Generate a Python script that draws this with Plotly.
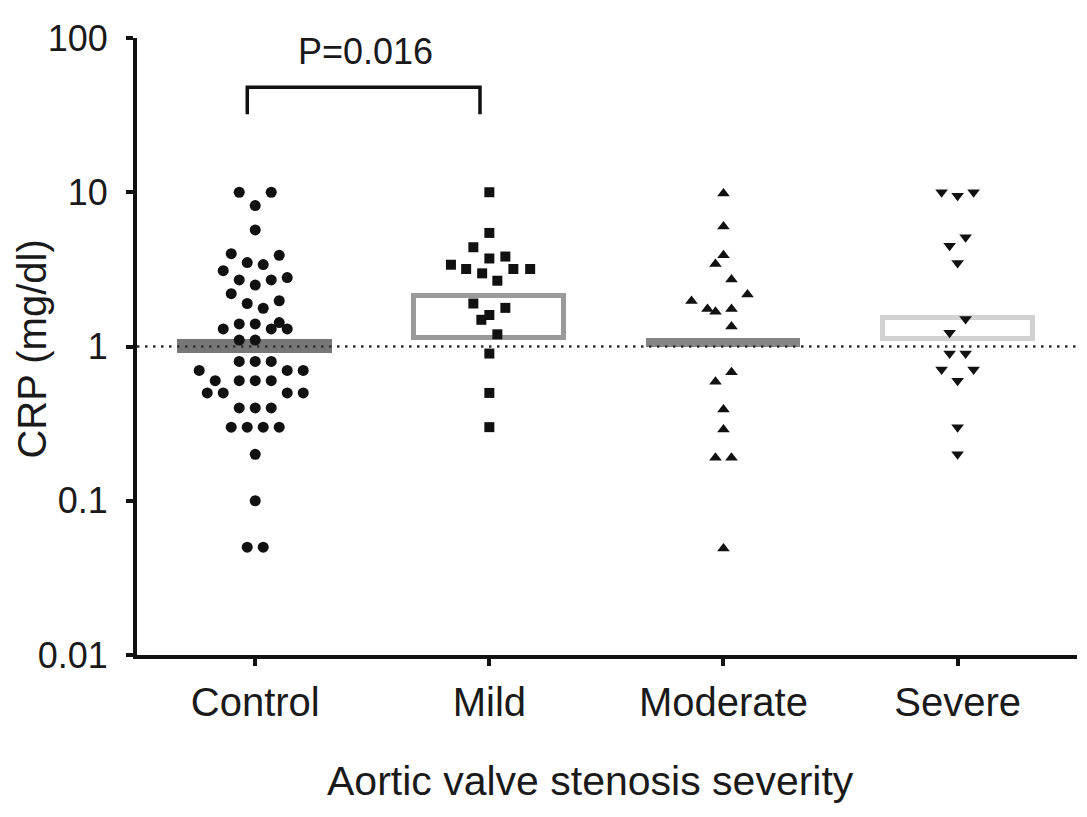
import plotly.graph_objects as go

# ---------------- data ----------------
categories = ["Control", "Mild", "Moderate", "Severe"]

control_values = [10, 10, 8.2, 5.7, 4.0, 3.9, 3.5, 3.4, 3.1, 2.7, 2.5, 2.7, 2.8, 2.2, 1.9, 1.77,
                  1.98, 1.3, 1.4, 1.4, 1.3, 1.43, 1.3, 1.1, 1.1, 0.8, 0.8, 0.8, 0.7, 0.7, 0.7,
                  0.6, 0.6, 0.6, 0.6, 0.5, 0.5, 0.5, 0.5, 0.4, 0.4, 0.4, 0.3, 0.3, 0.3, 0.3,
                  0.2, 0.1, 0.05, 0.05]
control_jitter = [-1, 1, 0, 0, -1.5, 1.5, -0.5, 0.5, -2, -1, 0, 1, 2, -1.5, -0.5, 0.5,
                  1.5, -2, -1, 0, 1, 1.5, 2, -1, 0, -1, 0, 1, -3.5, 2, 3,
                  -2.5, -1, 0, 1, -3, -2, 2, 3, -1, 0, 1, -1.5, -0.5, 0.5, 1.5,
                  0, 0, -0.5, 0.5]

mild_values = [10, 5.45, 4.4, 3.72, 3.83, 3.39, 3.18, 2.98, 3.18, 3.18, 2.67, 1.9, 1.78,
               1.6, 1.49, 1.2, 0.9, 0.5, 0.3]
mild_jitter = [0, 0, -1, 0, 1, -2.4, -1.45, -0.45, 1.5, 2.55, 0.5, -1, 1,
               0, -0.5, 0.5, 0, 0, 0]

moderate_values = [9.8, 6.0, 3.9, 3.43, 2.72, 2.17, 1.97, 1.75, 1.68, 1.75, 1.35, 0.68,
                   0.59, 0.39, 0.29, 0.19, 0.19, 0.049]
moderate_jitter = [0, 0, 0, -0.5, 0.5, 1.5, -2, -1, -0.5, 0.5, 0.5, 0.5,
                   -0.5, 0, 0, -0.5, 0.5, 0]

severe_values = [10, 9.5, 10, 5.1, 4.5, 3.48, 1.51, 1.23, 0.9, 0.9, 0.71, 0.71, 0.6, 0.3, 0.2]
severe_jitter = [-1, 0, 1, 0.5, -0.5, 0, 0.5, -0.5, -0.5, 0.5, -1, 1, 0, 0, 0]

bar_bottom = [0.93, 1.14, 1.02, 1.12]
bar_top = [1.07, 2.12, 1.08, 1.54]

reference_value = 1
p_label = "P=0.016"
bracket_low, bracket_high = 32, 48

y_tickvals = [0.01, 0.1, 1, 10, 100]
y_ticktext = ["0.01", "0.1", "1", "10", "100"]

# ---------------- styling ----------------
FONT = "Liberation Sans, Arial, sans-serif"
INK = "#111111"
TXT = "#1a1a1a"
SLOT = 16 / 234.1  # horizontal spacing of swarm columns in category units

groups = [
    (control_values, control_jitter, "circle", 11),
    (mild_values, mild_jitter, "square", 10),
    (moderate_values, moderate_jitter, "triangle-up", 11),
    (severe_values, severe_jitter, "triangle-down", 11),
]

bar_fill = ["#777777", "rgba(255,255,255,0)", "#858585", "rgba(255,255,255,0)"]
bar_line = ["#777777", "#9a9a9a", "#858585", "#d2d2d2"]

fig = go.Figure()

fig.add_trace(go.Bar(
    x=list(range(len(categories))),
    y=[t - b for t, b in zip(bar_top, bar_bottom)],
    base=bar_bottom,
    width=0.64,
    marker=dict(color=bar_fill, line=dict(color=bar_line, width=5)),
    showlegend=False,
    hoverinfo="skip",
))

fig.add_trace(go.Scatter(
    x=[-0.505, 3.51], y=[reference_value, reference_value],
    mode="lines",
    line=dict(color="#333333", width=2.5, dash="2.5px,5.5px"),
    showlegend=False, hoverinfo="skip",
))

for i, (vals, jit, sym, sz) in enumerate(groups):
    fig.add_trace(go.Scatter(
        x=[i + j * SLOT for j in jit],
        y=vals,
        mode="markers",
        marker=dict(symbol=sym, size=sz, color=INK, line=dict(width=0)),
        showlegend=False,
        name=categories[i],
    ))

# significance bracket between Control and Mild
fig.add_trace(go.Scatter(
    x=[-0.034, -0.034, 0.96, 0.96],
    y=[bracket_low, bracket_high, bracket_high, bracket_low],
    mode="lines",
    line=dict(color=INK, width=3.5),
    showlegend=False, hoverinfo="skip",
))

fig.update_layout(
    width=1079, height=809,
    margin=dict(l=129, r=10, t=21, b=162),
    paper_bgcolor="white", plot_bgcolor="white",
    font=dict(family=FONT, color=TXT),
    bargap=0,
    xaxis=dict(
        range=[-0.505, 3.51],
        tickvals=list(range(len(categories))),
        ticktext=categories,
        tickfont=dict(size=40, family=FONT, color=TXT),
        showline=True, linecolor=INK, linewidth=4,
        ticks="outside", ticklen=7, tickwidth=3.5, tickcolor=INK,
        showgrid=False, zeroline=False,
        ticklabelstandoff=2,
    ),
    yaxis=dict(
        type="log",
        range=[-2, 2],
        tickvals=y_tickvals,
        ticktext=y_ticktext,
        tickfont=dict(size=36, family=FONT, color=TXT),
        showline=True, linecolor=INK, linewidth=4,
        ticks="outside", ticklen=7, tickwidth=3.5, tickcolor=INK,
        showgrid=False, zeroline=False,
        ticklabelstandoff=11,
    ),
    annotations=[
        dict(text=p_label, x=0.47, xref="x", y=0.978, yref="paper",
             xanchor="center", yanchor="middle", showarrow=False,
             font=dict(size=36, family=FONT, color=TXT)),
        dict(text="CRP (mg/dl)", x=-0.1117, xref="paper", y=0.495, yref="paper",
             xanchor="center", yanchor="middle", textangle=-90, showarrow=False,
             font=dict(size=40, family=FONT, color=TXT)),
        dict(text="Aortic valve stenosis severity", x=0.482, xref="paper",
             y=-0.2045, yref="paper", xanchor="center", yanchor="middle",
             showarrow=False, font=dict(size=41, family=FONT, color=TXT)),
    ],
)

fig.write_html("out.html")
